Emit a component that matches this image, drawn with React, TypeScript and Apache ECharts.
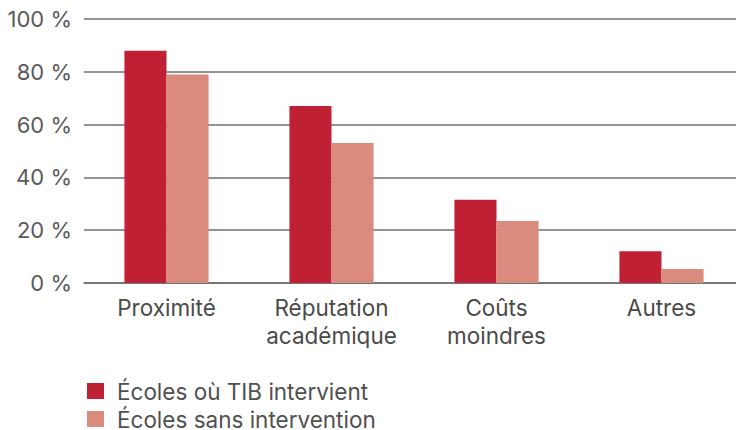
import React, { useEffect, useRef } from "react";
import * as echarts from "echarts";

const categories = ["Proximité", "Réputation\nacadémique", "Coûts\nmoindres", "Autres"];
const seriesNames = ["Écoles où TIB intervient", "Écoles sans intervention"];
const withTIB = [88, 67, 31.5, 12];
const withoutTIB = [79, 53, 23.5, 5.3];
const yTicks = [0, 20, 40, 60, 80, 100];

const FONT = "Inter";

export default function App() {
  const ref = useRef<HTMLDivElement>(null);
  useEffect(() => {
    if (!ref.current) return;
    const chart = echarts.init(ref.current, undefined, { renderer: "svg" });
    chart.setOption({
      animation: false,
      textStyle: { fontFamily: FONT },
      grid: { left: 84, width: 660, top: 19, bottom: 147, containLabel: false },
      legend: {
        orient: "vertical",
        left: 87,
        top: 379,
        height: 60,
        padding: 0,
        itemWidth: 17,
        itemHeight: 16,
        itemGap: 4,
        icon: "rect",
        textStyle: { fontSize: 22.5, lineHeight: 24, color: "#505050", fontFamily: FONT, padding: [0, 0, 0, 8] },
        data: seriesNames,
      },
      xAxis: {
        type: "category",
        data: categories,
        axisLine: { show: true, lineStyle: { color: "#6f6f6f", width: 1.5 } },
        axisTick: { show: false },
        axisLabel: {
          interval: 0,
          hideOverlap: false,
          fontSize: 22.5,
          color: "#4a4a4a",
          lineHeight: 28,
          margin: 10,
          fontFamily: FONT,
        },
      },
      yAxis: {
        type: "value",
        min: yTicks[0],
        max: yTicks[yTicks.length - 1],
        interval: 20,
        axisLine: { show: false },
        axisTick: { show: false },
        splitLine: { lineStyle: { color: "#6f6f6f", width: 1.5 } },
        axisLabel: { fontSize: 22, color: "#5a5a5a", margin: 12, fontFamily: FONT, formatter: (v: number) => `${v} %` },
      },
      series: [
        {
          name: seriesNames[0],
          type: "bar",
          data: withTIB,
          barGap: "0%",
          barCategoryGap: "49%",
          itemStyle: { color: "#C02033" },
        },
        {
          name: seriesNames[1],
          type: "bar",
          data: withoutTIB,
          barGap: "0%",
          barCategoryGap: "49%",
          itemStyle: { color: "#DA8B7E" },
        },
      ],
    });
    return () => chart.dispose();
  }, []);
  return (
    <div style={{ position: "absolute", left: 0, top: 0, width: 736, height: 430, overflow: "hidden" }}>
      <div ref={ref} style={{ width: 760, height: 430 }} />
    </div>
  );
}
